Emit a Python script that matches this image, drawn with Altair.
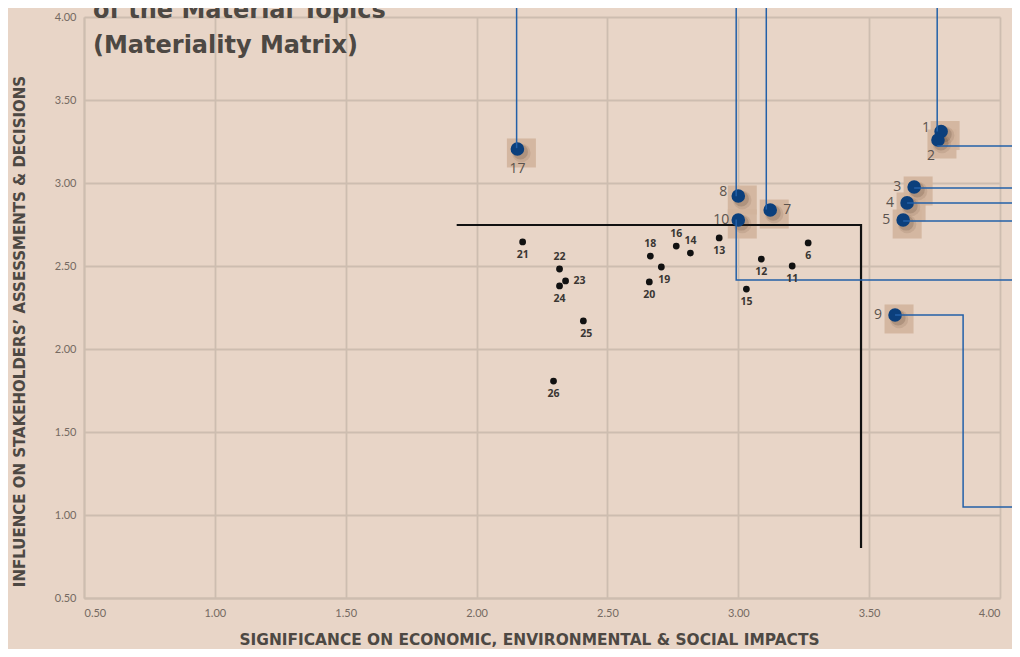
import altair as alt
import pandas as pd

# ---------------- data ----------------
major_ids = [1, 2, 3, 4, 5, 7, 8, 9, 10, 17]
major_x = [3.775, 3.763, 3.672, 3.645, 3.630, 3.122, 3.000, 3.599, 3.000, 2.156]
major_y = [3.310, 3.259, 2.976, 2.880, 2.777, 2.837, 2.922, 2.205, 2.777, 3.205]
major_label_side = ["upleft", "downleft", "left", "left", "left", "right", "upleft", "left", "left", "below"]

minor_ids = [6, 11, 12, 13, 14, 15, 16, 18, 19, 20, 21, 22, 23, 24, 25, 26]
minor_x = [3.267, 3.206, 3.088, 2.927, 2.817, 3.031, 2.763, 2.664, 2.706, 2.660, 2.176, 2.317, 2.340, 2.317, 2.408, 2.294]
minor_y = [2.639, 2.500, 2.542, 2.669, 2.578, 2.361, 2.620, 2.560, 2.494, 2.404, 2.645, 2.482, 2.410, 2.380, 2.169, 1.807]
minor_label_side = ["below", "below", "below", "below", "above", "below", "above", "above", "belowright",
                    "below", "below", "above", "right", "below", "belowright", "below"]

leader_ids = [17, 8, 10, 7, 1, 2, 3, 4, 5, 9]
leader_xs = [[2.153, 2.153], [2.992, 2.992], [2.992, 2.992, 4.2], [3.107, 3.107], [3.760, 3.760],
             [3.760, 4.2], [3.672, 4.2], [3.645, 4.2], [3.630, 4.2], [3.599, 3.859, 3.859, 4.2]]
leader_ys = [[3.21, 4.06], [2.92, 4.06], [2.78, 2.416, 2.416], [2.84, 4.06], [3.31, 4.06],
             [3.223, 3.223], [2.970, 2.970], [2.880, 2.880], [2.771, 2.771], [2.205, 2.205, 1.048, 1.048]]

threshold_x = [1.924, 3.469, 3.469]
threshold_y = [2.747, 2.747, 0.801]

tick_values = [0.5, 1.0, 1.5, 2.0, 2.5, 3.0, 3.5, 4.0]

title_lines = ["of the Material Topics", "(Materiality Matrix)"]
x_title = "SIGNIFICANCE ON ECONOMIC, ENVIRONMENTAL & SOCIAL IMPACTS"
y_title = "INFLUENCE ON STAKEHOLDERS\u2019 ASSESSMENTS & DECISIONS"

# ---------------- tables ----------------
major_df = pd.DataFrame({"id": major_ids, "x": major_x, "y": major_y, "side": major_label_side})
minor_df = pd.DataFrame({"id": minor_ids, "x": minor_x, "y": minor_y, "side": minor_label_side})
rows = []
for pid, xs, ys in zip(leader_ids, leader_xs, leader_ys):
    for i, (a, b) in enumerate(zip(xs, ys)):
        rows.append({"path": pid, "order": i, "x": a, "y": b})
leader_df = pd.DataFrame(rows)
thresh_df = pd.DataFrame({"order": list(range(len(threshold_x))), "x": threshold_x, "y": threshold_y})
title_df = pd.DataFrame({"k": [0]})

# ---------------- style ----------------
BG = "#e8d5c7"
GRID = "#cdbdb0"
BLUE = "#0b3f7c"
LINE_BLUE = "#2360a8"
TITLE_FONT = "DejaVu Sans"
LABEL_FONT = "Lato"

xscale = alt.Scale(domain=[0.5, 4.0], nice=False, zero=False)
yscale = alt.Scale(domain=[0.5, 4.0], nice=False, zero=False)

xaxis = alt.Axis(values=tick_values, format=".2f", title=x_title, grid=True, ticks=False,
                 labelPadding=9, titleX=445, titleY=46, titleBaseline="alphabetic", titleAnchor="middle",
                 titleFontSize=15.4)
yaxis = alt.Axis(values=tick_values, format=".2f", title=y_title, grid=True, ticks=False,
                 labelPadding=8, titleX=-60, titleY=314, titleBaseline="alphabetic", titleAngle=270,
                 titleAlign="center", titleFontSize=15)

X = alt.X("x:Q", scale=xscale, axis=xaxis)
Y = alt.Y("y:Q", scale=yscale, axis=yaxis)

base_major = alt.Chart(major_df).encode(x=X, y=Y)
base_minor = alt.Chart(minor_df).encode(x=X, y=Y)

squares = base_major.mark_square(size=841, color="#d2b49c", opacity=0.9, xOffset=4, yOffset=4)
shadow1 = base_major.mark_circle(size=340, color="#4a3020", opacity=0.10, xOffset=4, yOffset=4)
shadow2 = base_major.mark_circle(size=230, color="#4a3020", opacity=0.18, xOffset=3, yOffset=3)
threshold = alt.Chart(thresh_df).mark_line(color="#111111", strokeWidth=2.2).encode(
    x=X, y=Y, order="order:O")
blue_dots = base_major.mark_circle(size=185, color=BLUE, opacity=1)
leaders = alt.Chart(leader_df).mark_line(color=LINE_BLUE, strokeWidth=1.5).encode(
    x=X, y=Y, detail="path:N", order="order:O")
black_dots = base_minor.mark_circle(size=46, color="#111111", opacity=1)

minor_offsets = {"below": (0, 13), "above": (0, -12), "right": (14, 0), "belowright": (3, 13)}
major_offsets = {"below": (0, 20), "left": (-17, 0), "right": (17, 0), "upleft": (-15, -4), "downleft": (-7, 16)}

label_layers = []
for side, (dx, dy) in minor_offsets.items():
    label_layers.append(
        base_minor.transform_filter(alt.datum.side == side).mark_text(
            font="Open Sans", fontWeight="bold", fontSize=10.5, color="#3a3633", dx=dx, dy=dy,
            baseline="middle", align="center").encode(text="id:N"))
for side, (dx, dy) in major_offsets.items():
    label_layers.append(
        base_major.transform_filter(alt.datum.side == side).mark_text(
            font="Open Sans", fontSize=14, color="#5b534d", dx=dx, dy=dy,
            baseline="middle", align="center").encode(text="id:N"))

title_text = alt.Chart(title_df).mark_text(
    text=title_lines, align="left", baseline="alphabetic", lineHeight=35, fontSize=24,
    font=TITLE_FONT, fontWeight="bold", color="#4d4843",
).encode(x=alt.value(9), y=alt.value(1))

chart = alt.layer(squares, threshold, shadow1, shadow2, blue_dots, leaders, black_dots, *label_layers,
                  title_text).properties(
    width=916, height=581,
    autosize=alt.AutoSizeParams(type="none"),
    padding={"left": 76, "top": 9, "right": 12, "bottom": 51},
).configure(background=BG).configure_view(strokeOpacity=0).configure_axis(
    gridColor=GRID, gridWidth=1.8, domainColor=GRID, domainWidth=1.8,
    labelFont=LABEL_FONT, labelFontSize=11, labelColor="#756a62",
    titleFont=TITLE_FONT, titleFontWeight="bold", titleColor="#4d4843",
)

chart.save("out.html", embed_options={"renderer": "svg", "actions": False})
